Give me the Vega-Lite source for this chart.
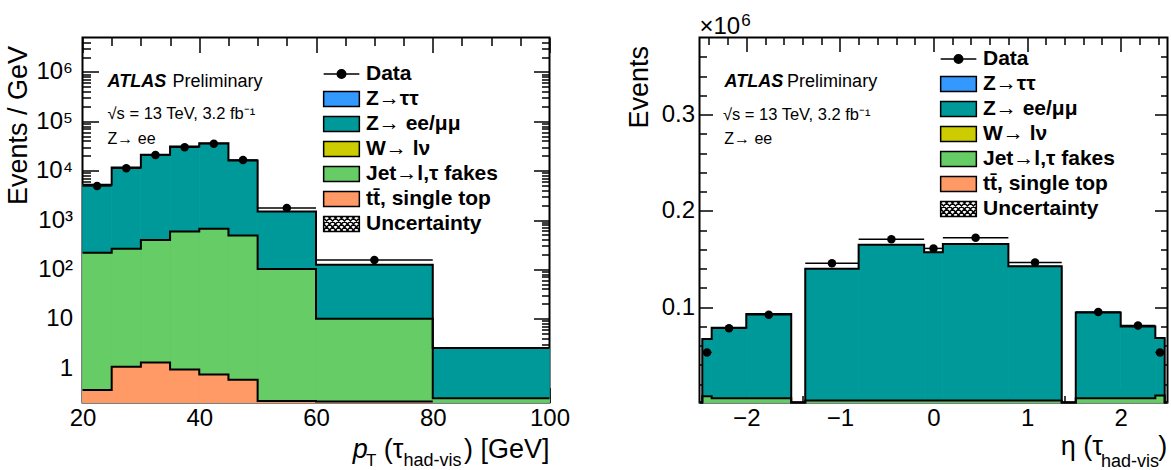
{
  "$schema": "https://vega.github.io/schema/vega-lite/v6.json",
  "autosize": {"type": "pad"},
  "padding": {"left": 3.5, "top": 10.5, "right": 0, "bottom": 0},
  "bounds": "flush",
  "spacing": 150,
  "background": "white",
  "config": {
    "font": "Liberation Sans",
    "view": {"stroke": "black", "strokeWidth": 2},
    "axis": {"grid": false, "domain": false, "labelFont": "Liberation Sans", "labelFontSize": 24, "labelColor": "black", "tickColor": "black", "tickWidth": 1.5, "titleFont": "Liberation Sans", "titleFontWeight": "normal", "titleColor": "black", "titleFontSize": 27, "labelFlush": false, "labelOverlap": false},
    "legend": {"orient": "none", "padding": 0, "labelFont": "Liberation Sans", "labelFontSize": 21, "labelFontWeight": "bold", "labelColor": "black", "symbolSize": 289, "symbolStrokeColor": "black", "symbolStrokeWidth": 1.5, "symbolOpacity": 1, "rowPadding": 3, "labelOffset": 14, "symbolOffset": 9.5, "labelLimit": 400}
  },
  "resolve": {
    "scale": {"x": "independent", "y": "independent", "fill": "independent", "shape": "independent"},
    "legend": {"fill": "independent", "shape": "independent"}
  },
  "datasets": {
    "pt_mc": [
      {"comp": "Z→ ee/μμ", "x0": 20, "x1": 25, "top": 5200},
      {"comp": "Z→ ee/μμ", "x0": 25, "x1": 30, "top": 11600},
      {"comp": "Z→ ee/μμ", "x0": 30, "x1": 35, "top": 21100},
      {"comp": "Z→ ee/μμ", "x0": 35, "x1": 40, "top": 31000},
      {"comp": "Z→ ee/μμ", "x0": 40, "x1": 45, "top": 36000},
      {"comp": "Z→ ee/μμ", "x0": 45, "x1": 50, "top": 16000},
      {"comp": "Z→ ee/μμ", "x0": 50, "x1": 60, "top": 1480},
      {"comp": "Z→ ee/μμ", "x0": 60, "x1": 80, "top": 124},
      {"comp": "Z→ ee/μμ", "x0": 80, "x1": 100, "top": 2.55},
      {"comp": "Jet→l,τ fakes", "x0": 20, "x1": 25, "top": 218},
      {"comp": "Jet→l,τ fakes", "x0": 25, "x1": 30, "top": 262},
      {"comp": "Jet→l,τ fakes", "x0": 30, "x1": 35, "top": 395},
      {"comp": "Jet→l,τ fakes", "x0": 35, "x1": 40, "top": 585},
      {"comp": "Jet→l,τ fakes", "x0": 40, "x1": 45, "top": 665},
      {"comp": "Jet→l,τ fakes", "x0": 45, "x1": 50, "top": 485},
      {"comp": "Jet→l,τ fakes", "x0": 50, "x1": 60, "top": 102},
      {"comp": "Jet→l,τ fakes", "x0": 60, "x1": 80, "top": 10},
      {"comp": "Jet→l,τ fakes", "x0": 80, "x1": 100, "top": 0.245},
      {"comp": "tt̄, single top", "x0": 20, "x1": 25, "top": 0.36},
      {"comp": "tt̄, single top", "x0": 25, "x1": 30, "top": 1.06},
      {"comp": "tt̄, single top", "x0": 30, "x1": 35, "top": 1.3},
      {"comp": "tt̄, single top", "x0": 35, "x1": 40, "top": 0.93},
      {"comp": "tt̄, single top", "x0": 40, "x1": 45, "top": 0.74},
      {"comp": "tt̄, single top", "x0": 45, "x1": 50, "top": 0.58},
      {"comp": "tt̄, single top", "x0": 50, "x1": 60, "top": 0.215},
      {"comp": "tt̄, single top", "x0": 60, "x1": 80, "top": 0.21}
    ],
    "pt_data": [
      {"x0": 20, "x1": 25, "c": 22.5, "n": 4900},
      {"x0": 25, "x1": 30, "c": 27.5, "n": 11200},
      {"x0": 30, "x1": 35, "c": 32.5, "n": 20800},
      {"x0": 35, "x1": 40, "c": 37.5, "n": 29800},
      {"x0": 40, "x1": 45, "c": 42.5, "n": 35200},
      {"x0": 45, "x1": 50, "c": 47.5, "n": 16500},
      {"x0": 50, "x1": 60, "c": 55, "n": 1750},
      {"x0": 60, "x1": 80, "c": 70, "n": 155}
    ],
    "eta_mc": [
      {"comp": "Z→ ee/μμ", "x0": -2.5, "x1": -2.47, "top": 0},
      {"comp": "Z→ ee/μμ", "x0": -2.47, "x1": -2.37, "top": 0.067},
      {"comp": "Z→ ee/μμ", "x0": -2.37, "x1": -2.0, "top": 0.0785},
      {"comp": "Z→ ee/μμ", "x0": -2.0, "x1": -1.52, "top": 0.093},
      {"comp": "Z→ ee/μμ", "x0": -1.52, "x1": -1.37, "top": 0},
      {"comp": "Z→ ee/μμ", "x0": -1.37, "x1": -0.8, "top": 0.14},
      {"comp": "Z→ ee/μμ", "x0": -0.8, "x1": -0.1, "top": 0.1647},
      {"comp": "Z→ ee/μμ", "x0": -0.1, "x1": 0.1, "top": 0.157},
      {"comp": "Z→ ee/μμ", "x0": 0.1, "x1": 0.8, "top": 0.1657},
      {"comp": "Z→ ee/μμ", "x0": 0.8, "x1": 1.37, "top": 0.1426},
      {"comp": "Z→ ee/μμ", "x0": 1.37, "x1": 1.52, "top": 0},
      {"comp": "Z→ ee/μμ", "x0": 1.52, "x1": 2.0, "top": 0.0945},
      {"comp": "Z→ ee/μμ", "x0": 2.0, "x1": 2.37, "top": 0.08},
      {"comp": "Z→ ee/μμ", "x0": 2.37, "x1": 2.47, "top": 0.068},
      {"comp": "Z→ ee/μμ", "x0": 2.47, "x1": 2.5, "top": 0},
      {"comp": "Jet→l,τ fakes", "x0": -2.5, "x1": -2.47, "top": 0},
      {"comp": "Jet→l,τ fakes", "x0": -2.47, "x1": -2.37, "top": 0.0075},
      {"comp": "Jet→l,τ fakes", "x0": -2.37, "x1": -2.0, "top": 0.0055},
      {"comp": "Jet→l,τ fakes", "x0": -2.0, "x1": -1.52, "top": 0.0055},
      {"comp": "Jet→l,τ fakes", "x0": -1.52, "x1": -1.37, "top": 0},
      {"comp": "Jet→l,τ fakes", "x0": -1.37, "x1": -0.8, "top": 0.003},
      {"comp": "Jet→l,τ fakes", "x0": -0.8, "x1": -0.1, "top": 0.003},
      {"comp": "Jet→l,τ fakes", "x0": -0.1, "x1": 0.1, "top": 0.003},
      {"comp": "Jet→l,τ fakes", "x0": 0.1, "x1": 0.8, "top": 0.003},
      {"comp": "Jet→l,τ fakes", "x0": 0.8, "x1": 1.37, "top": 0.003},
      {"comp": "Jet→l,τ fakes", "x0": 1.37, "x1": 1.52, "top": 0},
      {"comp": "Jet→l,τ fakes", "x0": 1.52, "x1": 2.0, "top": 0.0055},
      {"comp": "Jet→l,τ fakes", "x0": 2.0, "x1": 2.37, "top": 0.0055},
      {"comp": "Jet→l,τ fakes", "x0": 2.37, "x1": 2.47, "top": 0.0082},
      {"comp": "Jet→l,τ fakes", "x0": 2.47, "x1": 2.5, "top": 0}
    ],
    "eta_data": [
      {"x0": -2.47, "x1": -2.37, "c": -2.42, "n": 0.053},
      {"x0": -2.37, "x1": -2.0, "c": -2.185, "n": 0.078},
      {"x0": -2.0, "x1": -1.52, "c": -1.76, "n": 0.092},
      {"x0": -1.37, "x1": -0.8, "c": -1.085, "n": 0.1457},
      {"x0": -0.8, "x1": -0.1, "c": -0.45, "n": 0.1706},
      {"x0": -0.1, "x1": 0.1, "c": 0, "n": 0.161},
      {"x0": 0.1, "x1": 0.8, "c": 0.45, "n": 0.172},
      {"x0": 0.8, "x1": 1.37, "c": 1.085, "n": 0.1464},
      {"x0": 1.52, "x1": 2.0, "c": 1.76, "n": 0.095},
      {"x0": 2.0, "x1": 2.37, "c": 2.185, "n": 0.081},
      {"x0": 2.37, "x1": 2.47, "c": 2.42, "n": 0.053}
    ]
  },
  "hconcat": [
    {
      "width": 467,
      "height": 365,
      "resolve": {"axis": {"x": "independent", "y": "independent"}},
      "layer": [
        {
          "data": {"name": "pt_mc"},
          "transform": [{"filter": "datum.comp == 'Z→ ee/μμ'"}],
          "mark": {"type": "rect", "fill": "#009999", "stroke": "#009999", "strokeWidth": 0.8},
          "encoding": {
            "x": {"field": "x0", "type": "quantitative", "scale": {"domain": [20, 100], "nice": false, "zero": false},
                  "axis": {"orient": "bottom", "values": [20, 40, 60, 80, 100], "ticks": false, "tickSize": 0, "labelPadding": 23, "labelBaseline": "alphabetic", "title": null}},
            "x2": {"field": "x1"},
            "y": {"field": "top", "type": "quantitative", "scale": {"type": "log", "domain": [0.2, 5000000], "nice": false},
                  "axis": {"orient": "left", "values": [1, 10, 100, 1000, 10000, 100000, 1000000], "ticks": false, "tickSize": 0, "labelPadding": 10,
                           "labelExpr": "datum.value == 1 ? '1' : datum.value == 10 ? '10' : datum.value == 100 ? '10²' : datum.value == 1000 ? '10³' : datum.value == 10000 ? '10⁴' : datum.value == 100000 ? '10⁵' : '10⁶'",
                           "title": "Events / GeV", "titleAnchor": "end", "titleY": 8, "titleX": -56, "titleBaseline": "alphabetic", "titleAngle": 270}},
            "y2": {"datum": 0.2}
          }
        },
        {
          "data": {"name": "pt_mc"},
          "transform": [{"filter": "datum.comp == 'Jet→l,τ fakes'"}],
          "mark": {"type": "rect", "fill": "#66cc66", "stroke": "#66cc66", "strokeWidth": 0.8},
          "encoding": {
            "x": {"field": "x0", "type": "quantitative", "scale": {"domain": [20, 100], "nice": false, "zero": false}, "axis": null},
            "x2": {"field": "x1"},
            "y": {"field": "top", "type": "quantitative", "scale": {"type": "log", "domain": [0.2, 5000000], "nice": false}, "axis": null},
            "y2": {"datum": 0.2}
          }
        },
        {
          "data": {"name": "pt_mc"},
          "transform": [{"filter": "datum.comp == 'tt̄, single top'"}],
          "mark": {"type": "rect", "fill": "#ff9966", "stroke": "#ff9966", "strokeWidth": 0.8},
          "encoding": {
            "x": {"field": "x0", "type": "quantitative", "scale": {"domain": [20, 100], "nice": false, "zero": false}, "axis": null},
            "x2": {"field": "x1"},
            "y": {"field": "top", "type": "quantitative", "scale": {"type": "log", "domain": [0.2, 5000000], "nice": false}, "axis": null},
            "y2": {"datum": 0.2}
          }
        },
        {
          "data": {"name": "pt_mc"},
          "transform": [{"fold": ["x0", "x1"], "as": ["edge", "xe"]}],
          "mark": {"type": "line", "stroke": "black", "strokeWidth": 2, "interpolate": "linear"},
          "encoding": {
            "x": {"field": "xe", "type": "quantitative", "scale": {"domain": [20, 100], "nice": false, "zero": false},
                  "axis": {"orient": "bottom", "values": [20, 40, 60, 80, 100], "labels": false, "tickSize": -15, "title": null}},
            "y": {"field": "top", "type": "quantitative", "scale": {"type": "log", "domain": [0.2, 5000000], "nice": false},
                  "axis": {"orient": "left", "values": [1, 10, 100, 1000, 10000, 100000, 1000000], "labels": false, "tickSize": -16, "title": null}},
            "detail": {"field": "comp", "type": "nominal"},
            "order": [{"field": "xe", "type": "quantitative"}, {"field": "edge", "type": "nominal", "sort": "descending"}]
          }
        },
        {
          "data": {"name": "pt_data"},
          "mark": {"type": "rule", "stroke": "black", "strokeWidth": 1.5},
          "encoding": {
            "x": {"field": "x0", "type": "quantitative", "scale": {"domain": [20, 100], "nice": false, "zero": false},
                  "axis": {"orient": "bottom", "values": [25, 30, 35, 45, 50, 55, 65, 70, 75, 85, 90, 95], "labels": false, "tickSize": -8, "title": null}},
            "x2": {"field": "x1"},
            "y": {"field": "n", "type": "quantitative", "scale": {"type": "log", "domain": [0.2, 5000000], "nice": false},
                  "axis": {"orient": "left", "values": [0.3, 0.4, 0.5, 0.6, 0.7, 0.8, 0.9, 2, 3, 4, 5, 6, 7, 8, 9, 20, 30, 40, 50, 60, 70, 80, 90, 200, 300, 400, 500, 600, 700, 800, 900, 2000, 3000, 4000, 5000, 6000, 7000, 8000, 9000, 20000, 30000, 40000, 50000, 60000, 70000, 80000, 90000, 200000, 300000, 400000, 500000, 600000, 700000, 800000, 900000, 2000000, 3000000, 4000000], "labels": false, "tickSize": -8, "title": null}}
          }
        },
        {
          "data": {"name": "pt_data"},
          "mark": {"type": "point", "shape": "circle", "filled": true, "fill": "black", "size": 72, "opacity": 1},
          "encoding": {
            "x": {"field": "c", "type": "quantitative", "scale": {"domain": [20, 100], "nice": false, "zero": false},
                  "axis": {"orient": "top", "values": [20, 40, 60, 80, 100], "labels": false, "tickSize": -15, "title": null}},
            "y": {"field": "n", "type": "quantitative", "scale": {"type": "log", "domain": [0.2, 5000000], "nice": false},
                  "axis": {"orient": "right", "values": [1, 10, 100, 1000, 10000, 100000, 1000000], "labels": false, "tickSize": -16, "title": null}}
          }
        },
        {
          "data": {"name": "pt_mc"},
          "mark": {"type": "point", "filled": true, "opacity": 0, "stroke": "black", "strokeWidth": 1.5},
          "encoding": {
            "x": {"field": "x0", "type": "quantitative", "scale": {"domain": [20, 100], "nice": false, "zero": false},
                  "axis": {"orient": "top", "values": [25, 30, 35, 45, 50, 55, 65, 70, 75, 85, 90, 95], "labels": false, "tickSize": -8, "title": null}},
            "y": {"field": "top", "type": "quantitative", "scale": {"type": "log", "domain": [0.2, 5000000], "nice": false},
                  "axis": {"orient": "right", "values": [0.3, 0.4, 0.5, 0.6, 0.7, 0.8, 0.9, 2, 3, 4, 5, 6, 7, 8, 9, 20, 30, 40, 50, 60, 70, 80, 90, 200, 300, 400, 500, 600, 700, 800, 900, 2000, 3000, 4000, 5000, 6000, 7000, 8000, 9000, 20000, 30000, 40000, 50000, 60000, 70000, 80000, 90000, 200000, 300000, 400000, 500000, 600000, 700000, 800000, 900000, 2000000, 3000000, 4000000], "labels": false, "tickSize": -8, "title": null}},
            "fill": {"field": "comp", "type": "nominal",
                     "scale": {"domain": ["Data", "Z→ττ", "Z→ ee/μμ", "W→ lν", "Jet→l,τ fakes", "tt̄, single top", "Uncertainty"],
                               "range": ["black", "#3399ff", "#009999", "#cccc00", "#66cc66", "#ff9966", "white"]},
                     "legend": {"title": null, "orient": "none", "legendX": 239, "legendY": 26,
                                "encode": {"symbols": {"update": {"stroke": {"value": "black"}, "strokeWidth": {"value": 1.5}, "opacity": {"value": 1}}}}}},
            "shape": {"field": "comp", "type": "nominal",
                      "scale": {"domain": ["Data", "Z→ττ", "Z→ ee/μμ", "W→ lν", "Jet→l,τ fakes", "tt̄, single top", "Uncertainty"],
                                "range": ["M-2.1,0H2.1M0.5,0A0.5,0.5,0,1,1,-0.5,0A0.5,0.5,0,1,1,0.5,0",
                                          "M-2.1,-0.88H2.1V0.88H-2.1Z", "M-2.1,-0.88H2.1V0.88H-2.1Z", "M-2.1,-0.88H2.1V0.88H-2.1Z", "M-2.1,-0.88H2.1V0.88H-2.1Z", "M-2.1,-0.88H2.1V0.88H-2.1Z",
                                          "M-2.1,-0.88H2.1V0.88H-2.1ZM-2.1,0.7L-1.92,0.88M-2.1,0L-1.22,0.88M-2.1,-0.7L-0.52,0.88M-1.58,-0.88L0.18,0.88M-0.88,-0.88L0.88,0.88M-0.18,-0.88L1.58,0.88M0.52,-0.88L2.1,0.7M1.22,-0.88L2.1,0M1.92,-0.88L2.1,-0.7M-2.1,-0.7L-1.92,-0.88M-2.1,0L-1.22,-0.88M-2.1,0.7L-0.52,-0.88M-1.58,0.88L0.18,-0.88M-0.88,0.88L0.88,-0.88M-0.18,0.88L1.58,-0.88M0.52,0.88L2.1,-0.7M1.22,0.88L2.1,0M1.92,0.88L2.1,0.7"]},
                      "legend": {"title": null, "orient": "none", "legendX": 239, "legendY": 26,
                                 "encode": {"symbols": {"update": {"stroke": {"value": "black"}, "strokeWidth": {"value": 1.5}, "opacity": {"value": 1}}}}}}
          }
        },
        {
          "data": {"values": [{}]},
          "mark": {"type": "text", "text": "ATLAS", "fontSize": 18, "fontWeight": "bold", "fontStyle": "italic", "align": "left", "baseline": "alphabetic", "dy": 49.4, "fill": "black"},
          "encoding": {"x": {"datum": 24.29, "type": "quantitative", "scale": {"domain": [20, 100], "nice": false, "zero": false}, "axis": null},
                       "y": {"datum": 5000000, "type": "quantitative", "scale": {"type": "log", "domain": [0.2, 5000000], "nice": false}, "axis": null}}
        },
        {
          "data": {"values": [{}]},
          "mark": {"type": "text", "text": "Preliminary", "fontSize": 18, "align": "left", "baseline": "alphabetic", "dy": 49.4, "fill": "black"},
          "encoding": {"x": {"datum": 35.43, "type": "quantitative", "scale": {"domain": [20, 100], "nice": false, "zero": false}, "axis": null},
                       "y": {"datum": 5000000, "type": "quantitative", "scale": {"type": "log", "domain": [0.2, 5000000], "nice": false}, "axis": null}}
        },
        {
          "data": {"values": [{}]},
          "mark": {"type": "text", "text": "√s = 13 TeV, 3.2 fb⁻¹", "fontSize": 16.5, "align": "left", "baseline": "alphabetic", "dy": 81, "fill": "black"},
          "encoding": {"x": {"datum": 24.29, "type": "quantitative", "scale": {"domain": [20, 100], "nice": false, "zero": false}, "axis": null},
                       "y": {"datum": 5000000, "type": "quantitative", "scale": {"type": "log", "domain": [0.2, 5000000], "nice": false}, "axis": null}}
        },
        {
          "data": {"values": [{}]},
          "mark": {"type": "text", "text": "Z→ ee", "fontSize": 16, "align": "left", "baseline": "alphabetic", "dy": 106, "fill": "black"},
          "encoding": {"x": {"datum": 24.29, "type": "quantitative", "scale": {"domain": [20, 100], "nice": false, "zero": false}, "axis": null},
                       "y": {"datum": 5000000, "type": "quantitative", "scale": {"type": "log", "domain": [0.2, 5000000], "nice": false}, "axis": null}}
        },
        {
          "data": {"values": [{}]},
          "mark": {"type": "text", "text": "p", "fontSize": 27, "fontStyle": "italic", "align": "left", "baseline": "alphabetic", "dy": 55.5, "fill": "black"},
          "encoding": {"x": {"datum": 66.29, "type": "quantitative", "scale": {"domain": [20, 100], "nice": false, "zero": false}, "axis": null},
                       "y": {"datum": 0.2, "type": "quantitative", "scale": {"type": "log", "domain": [0.2, 5000000], "nice": false}, "axis": null}}
        },
        {
          "data": {"values": [{}]},
          "mark": {"type": "text", "text": "T", "fontSize": 17, "align": "left", "baseline": "alphabetic", "dy": 63, "fill": "black"},
          "encoding": {"x": {"datum": 68.57, "type": "quantitative", "scale": {"domain": [20, 100], "nice": false, "zero": false}, "axis": null},
                       "y": {"datum": 0.2, "type": "quantitative", "scale": {"type": "log", "domain": [0.2, 5000000], "nice": false}, "axis": null}}
        },
        {
          "data": {"values": [{}]},
          "mark": {"type": "text", "text": "(τ", "fontSize": 27, "align": "left", "baseline": "alphabetic", "dy": 55.5, "fill": "black"},
          "encoding": {"x": {"datum": 71.6, "type": "quantitative", "scale": {"domain": [20, 100], "nice": false, "zero": false}, "axis": null},
                       "y": {"datum": 0.2, "type": "quantitative", "scale": {"type": "log", "domain": [0.2, 5000000], "nice": false}, "axis": null}}
        },
        {
          "data": {"values": [{}]},
          "mark": {"type": "text", "text": "had-vis", "fontSize": 18, "align": "left", "baseline": "alphabetic", "dy": 63, "fill": "black"},
          "encoding": {"x": {"datum": 75.0, "type": "quantitative", "scale": {"domain": [20, 100], "nice": false, "zero": false}, "axis": null},
                       "y": {"datum": 0.2, "type": "quantitative", "scale": {"type": "log", "domain": [0.2, 5000000], "nice": false}, "axis": null}}
        },
        {
          "data": {"values": [{}]},
          "mark": {"type": "text", "text": ") [GeV]", "fontSize": 27, "align": "right", "baseline": "alphabetic", "dy": 55.5, "fill": "black"},
          "encoding": {"x": {"datum": 100, "type": "quantitative", "scale": {"domain": [20, 100], "nice": false, "zero": false}, "axis": null},
                       "y": {"datum": 0.2, "type": "quantitative", "scale": {"type": "log", "domain": [0.2, 5000000], "nice": false}, "axis": null}}
        }
      ]
    },
    {
      "width": 468,
      "height": 365,
      "resolve": {"axis": {"x": "independent", "y": "independent"}},
      "layer": [
        {
          "data": {"name": "eta_mc"},
          "transform": [{"filter": "datum.comp == 'Z→ ee/μμ'"}],
          "mark": {"type": "rect", "fill": "#009999", "stroke": "#009999", "strokeWidth": 0.8},
          "encoding": {
            "x": {"field": "x0", "type": "quantitative", "scale": {"domain": [-2.5, 2.5], "nice": false, "zero": false},
                  "axis": {"orient": "bottom", "values": [-2, -1, 0, 1, 2], "format": "d", "ticks": false, "tickSize": 0, "labelPadding": 23, "labelBaseline": "alphabetic", "title": null}},
            "x2": {"field": "x1"},
            "y": {"field": "top", "type": "quantitative", "scale": {"domain": [0.001, 0.38], "nice": false, "zero": false, "clamp": true},
                  "axis": {"orient": "left", "values": [0.1, 0.2, 0.3], "format": ".1f", "ticks": false, "tickSize": 0, "labelPadding": 5,
                           "title": "Events", "titleAnchor": "end", "titleY": 8, "titleX": -52, "titleBaseline": "alphabetic", "titleAngle": 270}},
            "y2": {"datum": 0.001}
          }
        },
        {
          "data": {"name": "eta_mc"},
          "transform": [{"filter": "datum.comp == 'Jet→l,τ fakes'"}],
          "mark": {"type": "rect", "fill": "#66cc66", "stroke": "#66cc66", "strokeWidth": 0.8},
          "encoding": {
            "x": {"field": "x0", "type": "quantitative", "scale": {"domain": [-2.5, 2.5], "nice": false, "zero": false}, "axis": null},
            "x2": {"field": "x1"},
            "y": {"field": "top", "type": "quantitative", "scale": {"domain": [0.001, 0.38], "nice": false, "zero": false, "clamp": true}, "axis": null},
            "y2": {"datum": 0.001}
          }
        },
        {
          "data": {"name": "eta_mc"},
          "transform": [{"fold": ["x0", "x1"], "as": ["edge", "xe"]}],
          "mark": {"type": "line", "stroke": "black", "strokeWidth": 2, "interpolate": "linear"},
          "encoding": {
            "x": {"field": "xe", "type": "quantitative", "scale": {"domain": [-2.5, 2.5], "nice": false, "zero": false},
                  "axis": {"orient": "bottom", "values": [-2, -1, 0, 1, 2], "labels": false, "tickSize": -14, "title": null}},
            "y": {"field": "top", "type": "quantitative", "scale": {"domain": [0.001, 0.38], "nice": false, "zero": false, "clamp": true},
                  "axis": {"orient": "left", "values": [0.1, 0.2, 0.3], "labels": false, "tickSize": -13, "title": null}},
            "detail": {"field": "comp", "type": "nominal"},
            "order": [{"field": "xe", "type": "quantitative"}, {"field": "edge", "type": "nominal", "sort": "descending"}]
          }
        },
        {
          "data": {"name": "eta_data"},
          "mark": {"type": "rule", "stroke": "black", "strokeWidth": 1.5},
          "encoding": {
            "x": {"field": "x0", "type": "quantitative", "scale": {"domain": [-2.5, 2.5], "nice": false, "zero": false},
                  "axis": {"orient": "bottom", "values": [-2.4, -2.2, -1.8, -1.6, -1.4, -1.2, -0.8, -0.6, -0.4, -0.2, 0.2, 0.4, 0.6, 0.8, 1.2, 1.4, 1.6, 1.8, 2.2, 2.4], "labels": false, "tickSize": -7, "title": null}},
            "x2": {"field": "x1"},
            "y": {"field": "n", "type": "quantitative", "scale": {"domain": [0.001, 0.38], "nice": false, "zero": false, "clamp": true},
                  "axis": {"orient": "left", "values": [0.02, 0.04, 0.06, 0.08, 0.12, 0.14, 0.16, 0.18, 0.22, 0.24, 0.26, 0.28, 0.32, 0.34, 0.36], "labels": false, "tickSize": -7, "title": null}}
          }
        },
        {
          "data": {"name": "eta_data"},
          "mark": {"type": "point", "shape": "circle", "filled": true, "fill": "black", "size": 72, "opacity": 1},
          "encoding": {
            "x": {"field": "c", "type": "quantitative", "scale": {"domain": [-2.5, 2.5], "nice": false, "zero": false},
                  "axis": {"orient": "top", "values": [-2, -1, 0, 1, 2], "labels": false, "tickSize": -14, "title": null}},
            "y": {"field": "n", "type": "quantitative", "scale": {"domain": [0.001, 0.38], "nice": false, "zero": false, "clamp": true},
                  "axis": {"orient": "right", "values": [0.1, 0.2, 0.3], "labels": false, "tickSize": -13, "title": null}}
          }
        },
        {
          "data": {"name": "eta_mc"},
          "mark": {"type": "point", "filled": true, "opacity": 0, "stroke": "black", "strokeWidth": 1.5},
          "encoding": {
            "x": {"field": "x0", "type": "quantitative", "scale": {"domain": [-2.5, 2.5], "nice": false, "zero": false},
                  "axis": {"orient": "top", "values": [-2.4, -2.2, -1.8, -1.6, -1.4, -1.2, -0.8, -0.6, -0.4, -0.2, 0.2, 0.4, 0.6, 0.8, 1.2, 1.4, 1.6, 1.8, 2.2, 2.4], "labels": false, "tickSize": -7, "title": null}},
            "y": {"field": "top", "type": "quantitative", "scale": {"domain": [0.001, 0.38], "nice": false, "zero": false, "clamp": true},
                  "axis": {"orient": "right", "values": [0.02, 0.04, 0.06, 0.08, 0.12, 0.14, 0.16, 0.18, 0.22, 0.24, 0.26, 0.28, 0.32, 0.34, 0.36], "labels": false, "tickSize": -7, "title": null}},
            "fill": {"field": "comp", "type": "nominal",
                     "scale": {"domain": ["Data", "Z→ττ", "Z→ ee/μμ", "W→ lν", "Jet→l,τ fakes", "tt̄, single top", "Uncertainty"],
                               "range": ["black", "#3399ff", "#009999", "#cccc00", "#66cc66", "#ff9966", "white"]},
                     "legend": {"title": null, "orient": "none", "legendX": 239, "legendY": 11,
                                "encode": {"symbols": {"update": {"stroke": {"value": "black"}, "strokeWidth": {"value": 1.5}, "opacity": {"value": 1}}}}}},
            "shape": {"field": "comp", "type": "nominal",
                      "scale": {"domain": ["Data", "Z→ττ", "Z→ ee/μμ", "W→ lν", "Jet→l,τ fakes", "tt̄, single top", "Uncertainty"],
                                "range": ["M-2.1,0H2.1M0.5,0A0.5,0.5,0,1,1,-0.5,0A0.5,0.5,0,1,1,0.5,0",
                                          "M-2.1,-0.88H2.1V0.88H-2.1Z", "M-2.1,-0.88H2.1V0.88H-2.1Z", "M-2.1,-0.88H2.1V0.88H-2.1Z", "M-2.1,-0.88H2.1V0.88H-2.1Z", "M-2.1,-0.88H2.1V0.88H-2.1Z",
                                          "M-2.1,-0.88H2.1V0.88H-2.1ZM-2.1,0.7L-1.92,0.88M-2.1,0L-1.22,0.88M-2.1,-0.7L-0.52,0.88M-1.58,-0.88L0.18,0.88M-0.88,-0.88L0.88,0.88M-0.18,-0.88L1.58,0.88M0.52,-0.88L2.1,0.7M1.22,-0.88L2.1,0M1.92,-0.88L2.1,-0.7M-2.1,-0.7L-1.92,-0.88M-2.1,0L-1.22,-0.88M-2.1,0.7L-0.52,-0.88M-1.58,0.88L0.18,-0.88M-0.88,0.88L0.88,-0.88M-0.18,0.88L1.58,-0.88M0.52,0.88L2.1,-0.7M1.22,0.88L2.1,0M1.92,0.88L2.1,0.7"]},
                      "legend": {"title": null, "orient": "none", "legendX": 239, "legendY": 11,
                                 "encode": {"symbols": {"update": {"stroke": {"value": "black"}, "strokeWidth": {"value": 1.5}, "opacity": {"value": 1}}}}}}
          }
        },
        {
          "data": {"values": [{}]},
          "mark": {"type": "text", "text": "×10", "fontSize": 24, "align": "left", "baseline": "alphabetic", "dy": -4, "fill": "black"},
          "encoding": {"x": {"datum": -2.5, "type": "quantitative", "scale": {"domain": [-2.5, 2.5], "nice": false, "zero": false}, "axis": null},
                       "y": {"datum": 0.38, "type": "quantitative", "scale": {"domain": [0.001, 0.38], "nice": false, "zero": false, "clamp": true}, "axis": null}}
        },
        {
          "data": {"values": [{}]},
          "mark": {"type": "text", "text": "6", "fontSize": 17, "align": "left", "baseline": "alphabetic", "dy": -12, "fill": "black"},
          "encoding": {"x": {"datum": -2.055, "type": "quantitative", "scale": {"domain": [-2.5, 2.5], "nice": false, "zero": false}, "axis": null},
                       "y": {"datum": 0.38, "type": "quantitative", "scale": {"domain": [0.001, 0.38], "nice": false, "zero": false, "clamp": true}, "axis": null}}
        },
        {
          "data": {"values": [{}]},
          "mark": {"type": "text", "text": "ATLAS", "fontSize": 18, "fontWeight": "bold", "fontStyle": "italic", "align": "left", "baseline": "alphabetic", "dy": 49.4, "fill": "black"},
          "encoding": {"x": {"datum": -2.233, "type": "quantitative", "scale": {"domain": [-2.5, 2.5], "nice": false, "zero": false}, "axis": null},
                       "y": {"datum": 0.38, "type": "quantitative", "scale": {"domain": [0.001, 0.38], "nice": false, "zero": false, "clamp": true}, "axis": null}}
        },
        {
          "data": {"values": [{}]},
          "mark": {"type": "text", "text": "Preliminary", "fontSize": 18, "align": "left", "baseline": "alphabetic", "dy": 49.4, "fill": "black"},
          "encoding": {"x": {"datum": -1.564, "type": "quantitative", "scale": {"domain": [-2.5, 2.5], "nice": false, "zero": false}, "axis": null},
                       "y": {"datum": 0.38, "type": "quantitative", "scale": {"domain": [0.001, 0.38], "nice": false, "zero": false, "clamp": true}, "axis": null}}
        },
        {
          "data": {"values": [{}]},
          "mark": {"type": "text", "text": "√s = 13 TeV, 3.2 fb⁻¹", "fontSize": 16.5, "align": "left", "baseline": "alphabetic", "dy": 82, "fill": "black"},
          "encoding": {"x": {"datum": -2.25, "type": "quantitative", "scale": {"domain": [-2.5, 2.5], "nice": false, "zero": false}, "axis": null},
                       "y": {"datum": 0.38, "type": "quantitative", "scale": {"domain": [0.001, 0.38], "nice": false, "zero": false, "clamp": true}, "axis": null}}
        },
        {
          "data": {"values": [{}]},
          "mark": {"type": "text", "text": "Z→ ee", "fontSize": 16, "align": "left", "baseline": "alphabetic", "dy": 106, "fill": "black"},
          "encoding": {"x": {"datum": -2.236, "type": "quantitative", "scale": {"domain": [-2.5, 2.5], "nice": false, "zero": false}, "axis": null},
                       "y": {"datum": 0.38, "type": "quantitative", "scale": {"domain": [0.001, 0.38], "nice": false, "zero": false, "clamp": true}, "axis": null}}
        },
        {
          "data": {"values": [{}]},
          "mark": {"type": "text", "text": "η (τ", "fontSize": 27, "align": "left", "baseline": "alphabetic", "dy": 52.7, "fill": "black"},
          "encoding": {"x": {"datum": 1.359, "type": "quantitative", "scale": {"domain": [-2.5, 2.5], "nice": false, "zero": false}, "axis": null},
                       "y": {"datum": 0.001, "type": "quantitative", "scale": {"domain": [0.001, 0.38], "nice": false, "zero": false, "clamp": true}, "axis": null}}
        },
        {
          "data": {"values": [{}]},
          "mark": {"type": "text", "text": "had-vis", "fontSize": 18, "align": "left", "baseline": "alphabetic", "dy": 64, "fill": "black"},
          "encoding": {"x": {"datum": 1.79, "type": "quantitative", "scale": {"domain": [-2.5, 2.5], "nice": false, "zero": false}, "axis": null},
                       "y": {"datum": 0.001, "type": "quantitative", "scale": {"domain": [0.001, 0.38], "nice": false, "zero": false, "clamp": true}, "axis": null}}
        },
        {
          "data": {"values": [{}]},
          "mark": {"type": "text", "text": ")", "fontSize": 27, "align": "left", "baseline": "alphabetic", "dy": 52.7, "fill": "black"},
          "encoding": {"x": {"datum": 2.4, "type": "quantitative", "scale": {"domain": [-2.5, 2.5], "nice": false, "zero": false}, "axis": null},
                       "y": {"datum": 0.001, "type": "quantitative", "scale": {"domain": [0.001, 0.38], "nice": false, "zero": false, "clamp": true}, "axis": null}}
        }
      ]
    }
  ]
}
